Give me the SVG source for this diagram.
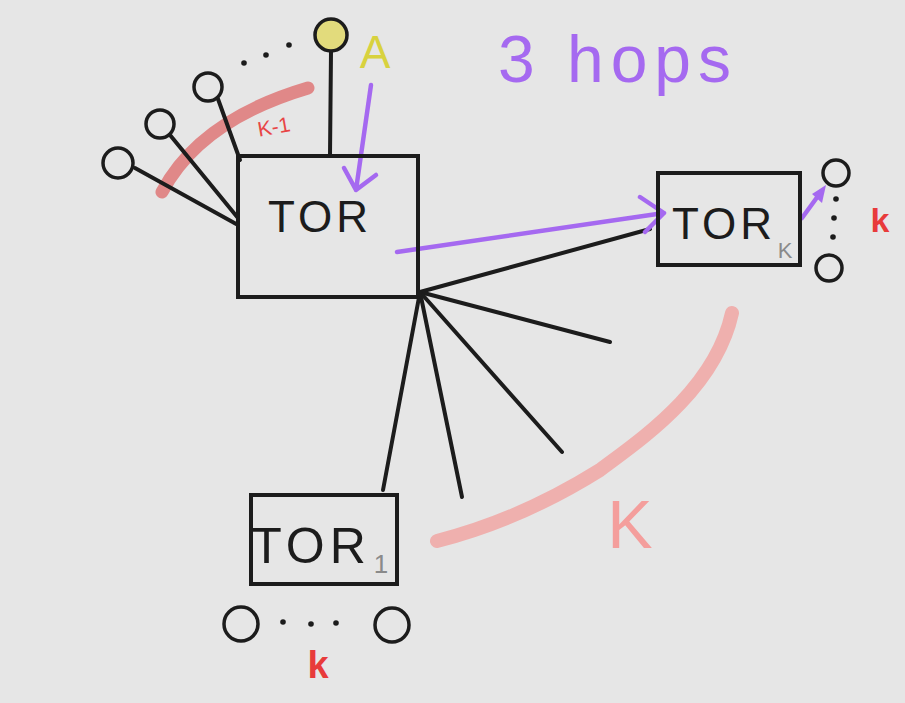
<svg xmlns="http://www.w3.org/2000/svg" width="905" height="703" viewBox="0 0 905 703">
<defs>
<style>
.box{fill:none;stroke:#1c1c1c;stroke-width:4}
.leaf{fill:none;stroke:#1c1c1c;stroke-width:3.5}
.ln{stroke:#1c1c1c;stroke-width:4;stroke-linecap:round;fill:none}
.pur{stroke:#a569f0;stroke-width:4.5;stroke-linecap:round;stroke-linejoin:round;fill:none}
.dot{fill:#1c1c1c}
.tor{font-family:"Liberation Sans",Arial,sans-serif;font-size:44px;fill:#1c1c1c;letter-spacing:4px}
.sub{font-family:"Liberation Sans",Arial,sans-serif;font-size:22px;fill:#8a8a8a}
.red{font-family:"Liberation Sans",Arial,sans-serif;fill:#e83b3b;font-weight:bold}
</style>
</defs>
<rect width="905" height="703" fill="#e6e6e6"/>
<!-- pink arcs -->
<path d="M162,192 Q200,120 308,88" fill="none" stroke="#e08888" stroke-width="13" stroke-linecap="round"/>
<path d="M732,313 C715,390 640,440 600,470 Q520,520 437,541" fill="none" stroke="#efb0ae" stroke-width="14" stroke-linecap="round"/>
<g id="connectors">
<line class="ln" x1="135" y1="168" x2="238" y2="225"/>
<line class="ln" x1="170" y1="135" x2="238" y2="218"/>
<line class="ln" x1="218" y1="99" x2="240" y2="160"/>
<line class="ln" x1="331" y1="52" x2="330" y2="155"/>
<line class="ln" x1="420" y1="292" x2="650" y2="229"/>
<line class="ln" x1="420" y1="292" x2="610" y2="342"/>
<line class="ln" x1="420" y1="292" x2="562" y2="452"/>
<line class="ln" x1="420" y1="292" x2="462" y2="497"/>
<line class="ln" x1="420" y1="292" x2="383" y2="490"/>
<!-- purple hop arrows -->
<path class="pur" d="M371,85 L356,190 M344,168 L356,190 L376,175"/>
<path class="pur" d="M397,252 L664,213 M640,197 L664,213 L645,232"/>
<path class="pur" d="M802,218 L818,196"/>
<polygon points="826,185 812,194 822,203" fill="#a569f0"/>
</g>
<g id="tor">
<rect class="box" x="238" y="156" width="180" height="141"/>
<text class="tor" x="320" y="232" text-anchor="middle">TOR</text>
</g>
<g id="leaf1"><circle class="leaf" cx="118" cy="163" r="15"/></g>
<g id="leaf2"><circle class="leaf" cx="160" cy="124" r="14"/></g>
<g id="leaf3"><circle class="leaf" cx="208" cy="87" r="14"/></g>
<g id="leafdots"><circle class="dot" cx="244" cy="63" r="2.8"/><circle class="dot" cx="266" cy="55" r="2.8"/><circle class="dot" cx="289" cy="45" r="2.8"/></g>
<g id="hostA">
<circle cx="331" cy="35" r="16" fill="#e2db7c" stroke="#1c1c1c" stroke-width="3.5"/>
<text x="375" y="68" font-family="Liberation Sans,Arial,sans-serif" font-size="46" fill="#d8d23e" text-anchor="middle">A</text>
</g>
<text x="274" y="134" font-family="Liberation Sans,Arial,sans-serif" font-size="21" fill="#e84545" text-anchor="middle" transform="rotate(-10 274 128)">K-1</text>
<text x="618" y="82" font-family="Liberation Sans,Arial,sans-serif" font-size="66" fill="#a569f0" text-anchor="middle" letter-spacing="7">3 hops</text>
<g id="tork">
<rect class="box" x="658" y="173" width="142" height="92"/>
<text class="tor" x="724" y="239" text-anchor="middle">TOR</text>
<text class="sub" x="785" y="258" text-anchor="middle">K</text>
</g>
<g id="tork-leaves">
<circle class="leaf" cx="836" cy="173" r="13"/>
<circle class="leaf" cx="829" cy="268" r="13"/>
<circle class="dot" cx="836" cy="199" r="2.8"/><circle class="dot" cx="834" cy="218" r="2.8"/><circle class="dot" cx="833" cy="237" r="2.8"/>
<text class="red" x="880" y="232" font-size="34" text-anchor="middle">k</text>
</g>
<g id="tor1">
<rect class="box" x="251" y="495" width="146" height="89"/>
<text class="tor" x="311" y="563" text-anchor="middle" style="font-size:50px;letter-spacing:5px">TOR</text>
<text class="sub" x="381" y="573" text-anchor="middle" style="font-size:26px">1</text>
</g>
<g id="tor1-leaves">
<circle class="leaf" cx="241" cy="624" r="17"/>
<circle class="leaf" cx="392" cy="625" r="17"/>
<circle class="dot" cx="283" cy="622" r="2.8"/><circle class="dot" cx="311" cy="624" r="2.8"/><circle class="dot" cx="336" cy="623" r="2.8"/>
<text class="red" x="318" y="678" font-size="38" text-anchor="middle">k</text>
</g>
<text x="630" y="548" font-family="Liberation Sans,Arial,sans-serif" font-size="68" fill="#f49e9c" text-anchor="middle">K</text>
</svg>
